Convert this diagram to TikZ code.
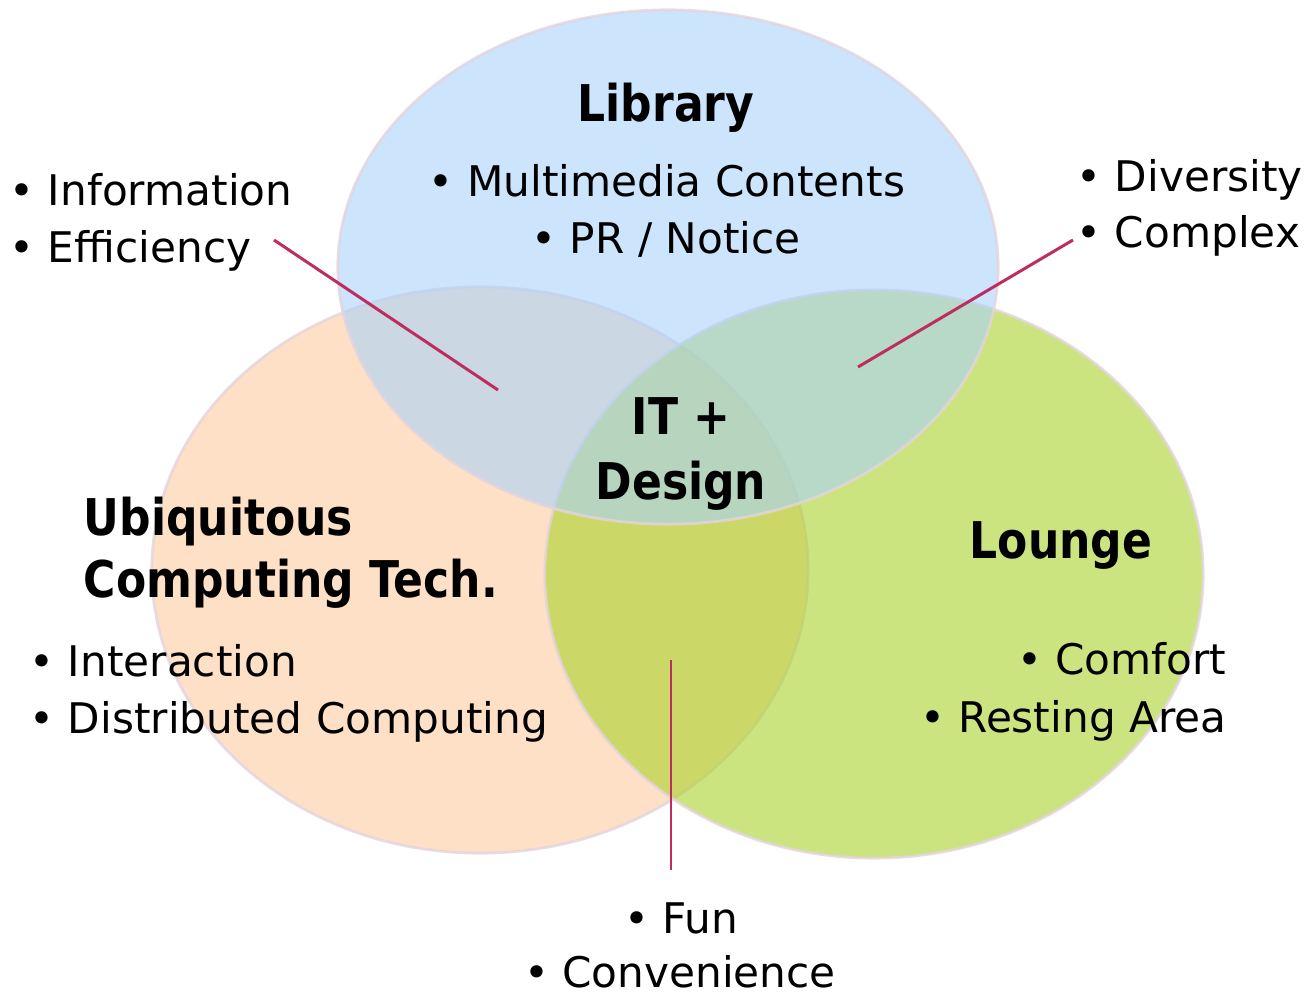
\documentclass[tikz,border=0pt]{standalone}
\usepackage{fontspec}
\setmainfont{DejaVu Sans}[BoldFeatures={FakeStretch=0.87}]
\usepackage{tikz}
\usetikzlibrary{positioning}
\definecolor{libBlue}{RGB}{170,210,250}
\definecolor{ubiPeach}{RGB}{252,203,158}
\definecolor{loungeGreen}{RGB}{170,210,43}
\definecolor{rimGray}{RGB}{228,212,222}
\definecolor{pointerRed}{RGB}{190,45,95}
\tikzstyle{setEllipse} = [fill opacity=0.6, draw opacity=0.8, draw=rimGray, line width=0.8pt]
\tikzstyle{title} = [inner sep=0pt, font=\fontsize{14.4}{18}\selectfont\bfseries]
\tikzstyle{item} = [inner sep=0pt, font=\fontsize{12}{16}\selectfont]
\tikzstyle{pointer} = [draw=pointerRed, line width=0.85pt]

\begin{document}
\begin{tikzpicture}[x=0.01cm, y=-0.01cm]
                    \useasboundingbox (0,0) rectangle (1305,994);
                    % the three sets
                    \coordinate (ubiC) at (480,570);
                    \coordinate (lngC) at (874,574);
                    \coordinate (libC) at (668,267);
                    \draw [setEllipse, fill=ubiPeach] (ubiC) ellipse [x radius=3.28cm, y radius=2.83cm];
                    \draw [setEllipse, fill=loungeGreen] (lngC) ellipse [x radius=3.29cm, y radius=2.84cm];
                    \draw [setEllipse, fill=libBlue] (libC) ellipse [x radius=3.30cm, y radius=2.57cm];
                    % headings
                    \node (library) [title, anchor=base] at (666,122) {Library};
                    \node (it) [title, anchor=base] at (681,435) {IT +};
                    \node (design) [title, anchor=base] at (681,500) {Design};
                    \node (ubi1) [title, anchor=base west] at (83,535) {Ubiquitous};
                    \node (ubi2) [title, anchor=base west] at (83,598) {Computing Tech.};
                    \node (lounge) [title, anchor=base] at (1061,558) {Lounge};
                    % bullet items
                    \node (multi) [item, anchor=base] at (667,197) {• Multimedia Contents};
                    \node (pr) [item, anchor=base] at (666,254) {• PR / Notice};
                    \node (info) [item, anchor=base west] at (9,206) {• Information};
                    \node (effic) [item, anchor=base west] at (9,263) {• Efficiency};
                    \node (divers) [item, anchor=base west] at (1076,192) {• Diversity};
                    \node (complex) [item, anchor=base west] at (1076,248) {• Complex};
                    \node (interact) [item, anchor=base west] at (29,676) {• Interaction};
                    \node (distrib) [item, anchor=base west] at (29,733) {• Distributed Computing};
                    \node (comfort) [item, anchor=base east] at (1227,675) {• Comfort};
                    \node (resting) [item, anchor=base east] at (1227,732) {• Resting Area};
                    \node (fun) [item, anchor=base] at (681,933) {• Fun};
                    \node (conv) [item, anchor=base] at (680,987) {• Convenience};
                    % pointers
                    \coordinate (effTip) at (274,240);
                    \coordinate (effEnd) at (498,390);
                    \coordinate (cpxTip) at (1073,240);
                    \coordinate (cpxEnd) at (858,367);
                    \coordinate (funTip) at (671,870);
                    \coordinate (funEnd) at (671,660);
                    \draw [pointer] (effTip) -- (effEnd);
                    \draw [pointer] (cpxTip) -- (cpxEnd);
                    \draw [pointer] (funTip) -- (funEnd);
                \end{tikzpicture}
\end{document}
